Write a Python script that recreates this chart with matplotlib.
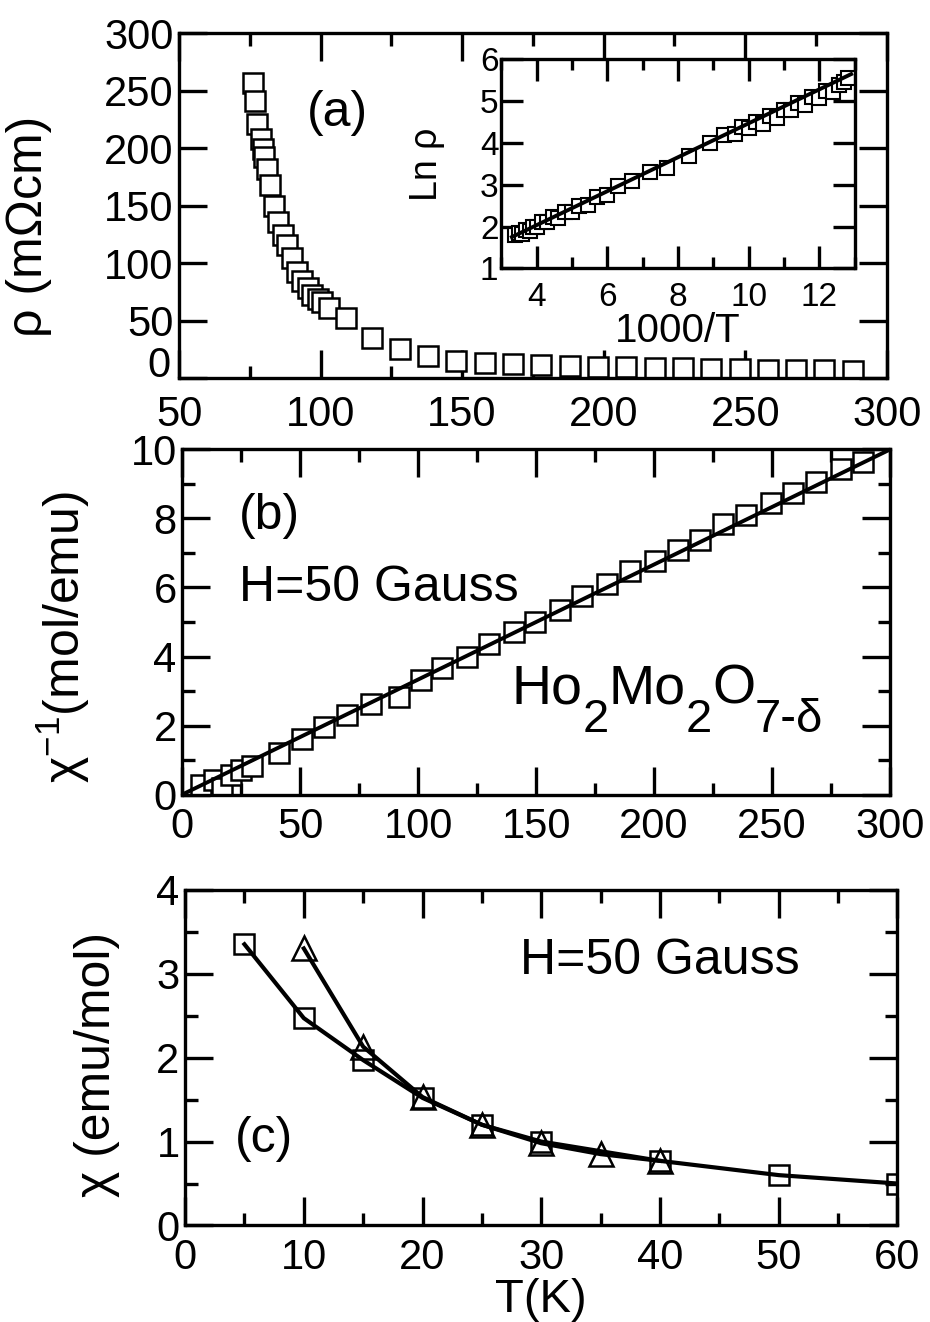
import matplotlib
matplotlib.use("Agg")
import matplotlib.pyplot as plt
from matplotlib.ticker import MultipleLocator, FuncFormatter

plt.rcParams["font.family"] = ["Liberation Sans", "DejaVu Sans"]
plt.rcParams["mathtext.fontset"] = "custom"
plt.rcParams["mathtext.rm"] = "Liberation Sans"
plt.rcParams["mathtext.it"] = "Liberation Sans"
plt.rcParams["mathtext.bf"] = "Liberation Sans"

# -----------------------------
# Data (a): resistivity
# -----------------------------
rho_T = [76, 77, 77.7, 78.9, 79.6, 80, 80.9, 82, 83.5, 85, 86.6, 88.3, 90, 91.8,
         93.6, 95.4, 97, 99, 100.6, 103, 109, 118, 128, 138, 148,
         158, 168, 178, 188, 198, 208, 218, 228, 238, 248, 258, 268, 278, 288]
rho_val = [257, 241, 221, 208, 199, 192, 182, 168, 150, 136, 124, 116, 104, 92,
           84, 78, 72, 69, 66, 61, 52, 35, 25, 19, 15,
           13, 12, 11, 10.5, 10, 9.5, 9, 8.5, 8, 7.5, 7.2, 7, 6.8, 6.5]

# inset: Ln rho vs 1000/T
inv_T = [3.4, 3.5, 3.6, 3.7, 3.8, 3.9, 4.0, 4.15, 4.3, 4.45, 4.6, 4.8, 5.0, 5.2,
         5.45, 5.7, 6.0, 6.3, 6.7, 7.2, 7.7, 8.3, 8.9, 9.3, 9.6, 9.8, 10.0, 10.2,
         10.4, 10.6, 10.8, 11.0, 11.2, 11.4, 11.6, 11.8, 12.0, 12.2, 12.4, 12.55,
         12.7, 12.8]
ln_rho = [1.8, 1.85, 1.82, 1.92, 1.9, 2.0, 1.98, 2.1, 2.1, 2.22, 2.2, 2.35, 2.35, 2.5,
          2.52, 2.72, 2.75, 2.98, 3.1, 3.3, 3.4, 3.7, 4.0, 4.2, 4.22, 4.38, 4.35, 4.5,
          4.45, 4.65, 4.6, 4.8, 4.78, 4.95, 4.92, 5.1, 5.08, 5.25, 5.22, 5.4,
          5.45, 5.55]
fit_a_x = [3.3, 12.9]
fit_a_y = [1.75, 5.65]

# -----------------------------
# Data (b): inverse susceptibility
# -----------------------------
chi_inv_T = [8, 13.5, 17, 20.6, 24.8, 29.6, 41, 50.8, 60, 69.8, 79.8, 91.8, 101,
             110, 120.6, 130, 140.5, 149.7, 160, 169.3, 180, 189.8, 200.4, 210,
             219.4, 229.4, 239, 249.7, 259, 268.7, 279.3, 288.6]
chi_inv = [0.29, 0.43, 0.2, 0.58, 0.72, 0.82, 1.2, 1.6, 1.95, 2.3, 2.62, 2.84, 3.33,
           3.68, 4.0, 4.35, 4.7, 5.0, 5.36, 5.74, 6.09, 6.47, 6.76, 7.1,
           7.39, 7.83, 8.1, 8.46, 8.75, 9.07, 9.42, 9.65]
fit_b_x = [0, 300]
fit_b_y = [0.0, 10.0]

# -----------------------------
# Data (c): susceptibility
# -----------------------------
chi_sq_T = [5, 10, 15, 20, 25, 30, 40, 50, 60]
chi_sq = [3.35, 2.47, 1.97, 1.52, 1.2, 1.0, 0.77, 0.6, 0.5]
chi_tri_T = [10, 15, 20, 25, 30, 35, 40]
chi_tri = [3.3, 2.13, 1.53, 1.2, 0.98, 0.85, 0.77]

FS = 30      # tick labels
TS = 36      # axis labels / annotations
LW = 2.4


def style_axes(ax, xmaj, xmin, ymaj, ymin, fs=FS, big=20, small=9):
    ax.xaxis.set_major_locator(MultipleLocator(xmaj))
    ax.yaxis.set_major_locator(MultipleLocator(ymaj))
    if xmin:
        ax.xaxis.set_minor_locator(MultipleLocator(xmin))
    if ymin:
        ax.yaxis.set_minor_locator(MultipleLocator(ymin))
    ax.tick_params(which="both", direction="in", top=True, right=True,
                   width=LW, labelsize=fs)
    ax.tick_params(which="major", length=big)
    ax.tick_params(which="minor", length=small)
    ax.tick_params(axis="y", pad=4)
    ax.tick_params(axis="x", pad=9)
    for s in ax.spines.values():
        s.set_linewidth(LW)


fig = plt.figure(figsize=(9.3, 13.22), dpi=100)

# ---- panel (a)
ax1 = fig.add_axes([0.1925, 0.714, 0.761, 0.261])
ax1.plot(rho_T, rho_val, "s", ms=14, mfc="white", mec="black", mew=1.8)
ax1.set_xlim(50, 300)
ax1.set_ylim(0, 300)
style_axes(ax1, 50, 25, 50, None)
ax1.tick_params(axis="x", pad=12)
# the "0" sits a little higher than the other labels (clears the "50" below)
ax1.yaxis.set_major_formatter(FuncFormatter(lambda v, p: "" if v == 0 else f"{v:g}"))
ax1.text(-0.012, 0.035, "0", transform=ax1.transAxes, fontsize=FS,
         ha="right", va="center")
ax1.set_ylabel("ρ (mΩcm)", fontsize=TS)
ax1.yaxis.set_label_coords(-0.18, 0.44)
ax1.text(0.18, 0.73, "(a)", transform=ax1.transAxes, fontsize=TS)

# inset
axi = fig.add_axes([0.539, 0.797, 0.380, 0.158])
axi.plot(inv_T, ln_rho, "s", ms=10.5, mfc="white", mec="black", mew=1.5)
axi.plot(fit_a_x, fit_a_y, "-", color="black", lw=2.8)
axi.set_xlim(3, 13)
axi.set_ylim(1, 6)
style_axes(axi, 2, 1, 1, None, fs=24, big=16, small=8)
axi.tick_params(axis="y", pad=2)
axi.tick_params(axis="x", pad=10)
axi.set_xlabel("1000/T", fontsize=29, labelpad=-1)
axi.set_ylabel("Ln ρ", fontsize=27)
axi.yaxis.set_label_coords(-0.16, 0.5)

# ---- panel (b)
ax2 = fig.add_axes([0.196, 0.399, 0.761, 0.261])
ax2.plot(chi_inv_T, chi_inv, "s", ms=15, mfc="white", mec="black", mew=1.8)
ax2.plot(fit_b_x, fit_b_y, "-", color="black", lw=2.8)
ax2.set_xlim(0, 300)
ax2.set_ylim(0, 10)
style_axes(ax2, 50, 25, 2, 1)
ax2.set_ylabel("χ$^{-1}$(mol/emu)", fontsize=TS)
ax2.yaxis.set_label_coords(-0.127, 0.455)
ax2.text(0.08, 0.77, "(b)", transform=ax2.transAxes, fontsize=TS)
ax2.text(0.08, 0.56, "H=50 Gauss", transform=ax2.transAxes, fontsize=TS)

# formula with full-size, deeply lowered subscripts
SUB = 19
prev = ax2.text(0.465, 0.23, "Ho", transform=ax2.transAxes, fontsize=40,
                va="bottom")
for piece, lower in [("2", True), ("Mo", False), ("2", True), ("O", False),
                     ("7-δ", True)]:
    dy = -SUB if lower else SUB
    prev = ax2.annotate(piece, xy=(1, 0), xycoords=prev, xytext=(0, dy),
                        textcoords="offset points", va="bottom", ha="left",
                        fontsize=34 if lower else 40)

# ---- panel (c)
ax3 = fig.add_axes([0.199, 0.073, 0.766, 0.254])
ax3.plot(chi_sq_T, chi_sq, "-", color="black", lw=3)
ax3.plot(chi_tri_T, chi_tri, "-", color="black", lw=3)
ax3.plot(chi_sq_T, chi_sq, "s", ms=14, mfc="none", mec="black", mew=1.8)
ax3.plot(chi_tri_T, chi_tri, "^", ms=17, mfc="none", mec="black", mew=1.8)
ax3.set_xlim(0, 60)
ax3.set_ylim(0, 4)
style_axes(ax3, 10, 5, 1, 0.5)
ax3.set_ylabel("χ (emu/mol)", fontsize=TS)
ax3.yaxis.set_label_coords(-0.091, 0.48)
ax3.set_xlabel("T(K)", fontsize=34, labelpad=0)
ax3.text(0.07, 0.22, "(c)", transform=ax3.transAxes, fontsize=TS)
ax3.text(0.47, 0.75, "H=50 Gauss", transform=ax3.transAxes, fontsize=TS)

fig.savefig("out.png", dpi=100, facecolor="white")
